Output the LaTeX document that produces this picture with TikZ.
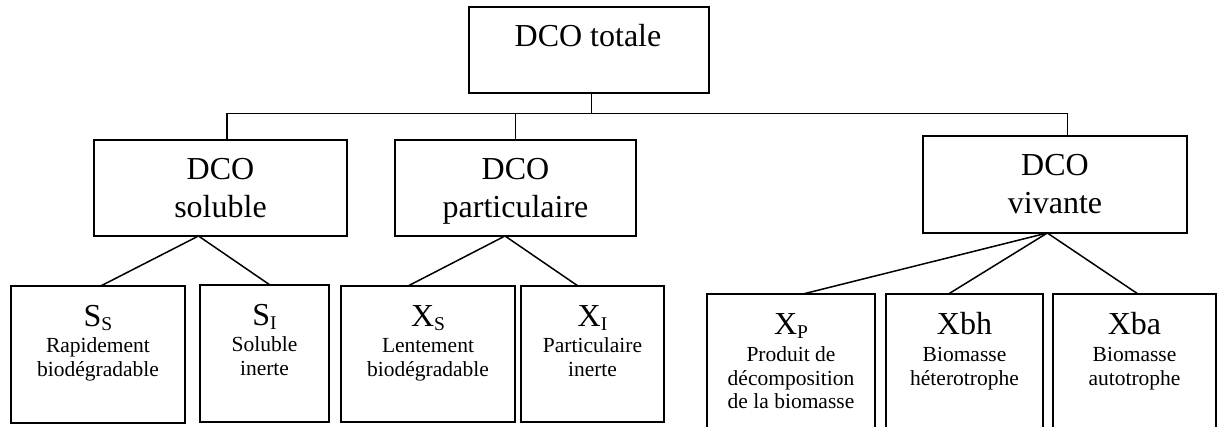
\documentclass[tikz,border=0pt]{standalone}
\usepackage{fontspec}
\setmainfont{Liberation Serif}
\usetikzlibrary{calc}
\newcommand{\bigf}{\fontsize{32}{38}\selectfont}
\newcommand{\smallf}{\fontsize{21.5}{23.5}\selectfont}
\newcommand{\sbx}[1]{\raisebox{-3.5pt}{\fontsize{19.5}{22}\selectfont #1}}
\newcommand{\lines}[1]{\begin{tabular}[t]{@{}c@{}}#1\end{tabular}}
\begin{document}
\begin{tikzpicture}[x=1pt,y=-1pt,
  box/.style={draw,line width=1.6pt,inner sep=0pt,outer sep=0pt},
  big/.style={inner sep=0pt,anchor=base,font=\bigf},
  small/.style={inner sep=0pt,anchor=base,font=\smallf},
  conn/.style={line width=1.5pt}]
\path[use as bounding box] (0,0) rectangle (1219,427);
\clip (0,0) rectangle (1219,427);
% boxes
\node[box,minimum width=240pt,minimum height=86pt] (tot) at (589,50) {};
\node[box,minimum width=253pt,minimum height=96pt] (sol) at (220.5,188) {};
\node[box,minimum width=241pt,minimum height=96pt] (par) at (515.5,188) {};
\node[box,minimum width=264pt,minimum height=97pt] (viv) at (1055,184.5) {};
\node[box,minimum width=174pt,minimum height=137pt] (ss) at (98,354.5) {};
\node[box,minimum width=129pt,minimum height=137pt] (si) at (264.5,353.5) {};
\node[box,minimum width=174pt,minimum height=136pt] (xs) at (428,354) {};
\node[box,minimum width=143pt,minimum height=136pt] (xi) at (592.5,354) {};
\node[box,minimum width=168pt,minimum height=146pt] (xp) at (791,367) {};
\node[box,minimum width=157pt,minimum height=146pt] (xbh) at (964.5,367) {};
\node[box,minimum width=163pt,minimum height=146pt] (xba) at (1134.5,367) {};
% texts
\node[big] (tot-t) at (588,47) {DCO totale};
\node[big] (sol-t) at (220.5,180) {\lines{DCO\\soluble}};
\node[big] (par-t) at (515.5,180) {\lines{DCO\\particulaire}};
\node[big] (viv-t) at (1055,176) {\lines{DCO\\vivante}};
\node[big] (ss-l) at (98,327) {S\sbx{S}};
\node[small] (ss-d) at (98,353) {\lines{Rapidement\\biodégradable}};
\node[big] (si-l) at (264.5,326) {S\sbx{I}};
\node[small] (si-d) at (264.5,352) {\lines{Soluble\\inerte}};
\node[big] (xs-l) at (428,327) {X\sbx{S}};
\node[small] (xs-d) at (428,353) {\lines{Lentement\\biodégradable}};
\node[big] (xi-l) at (592.5,327) {X\sbx{I}};
\node[small] (xi-d) at (592.5,353) {\lines{Particulaire\\inerte}};
\node[big] (xp-l) at (791,335) {X\sbx{P}};
\node[small] (xp-d) at (791,362) {\lines{Produit de\\décomposition\\de la biomasse}};
\node[big] (xbh-l) at (964.5,335) {Xbh};
\node[small] (xbh-d) at (964.5,362) {\lines{Biomasse\\héterotrophe}};
\node[big] (xba-l) at (1134.5,335) {Xba};
\node[small] (xba-d) at (1134.5,362) {\lines{Biomasse\\autotrophe}};
% bus
\coordinate (bus) at (0,113.3);
\draw[conn] ([xshift=2.7pt]tot.south) -- ([xshift=2.7pt]tot.south |- bus);
\draw[conn] ([xshift=6.4pt]sol.north) -- ([xshift=6.4pt]sol.north |- bus)
  -- ([xshift=12.3pt]viv.north |- bus) -- ([xshift=12.3pt]viv.north);
\draw[conn] (par.north) -- (par.north |- bus);
% branches
\draw[conn] ([xshift=2.7pt]ss.north) -- ([xshift=-22pt]sol.south) -- ([xshift=5.5pt]si.north);
\draw[conn] ([xshift=-20pt]xs.north) -- ([xshift=-10.5pt]par.south) -- ([xshift=-14.5pt]xi.north);
\draw[conn] ([xshift=12pt]xp.north) -- ([xshift=-7.7pt]viv.south);
\draw[conn] ([xshift=-16pt]xbh.north) -- ([xshift=-7.7pt]viv.south) -- ([xshift=3.5pt]xba.north);
\end{tikzpicture}
\end{document}
